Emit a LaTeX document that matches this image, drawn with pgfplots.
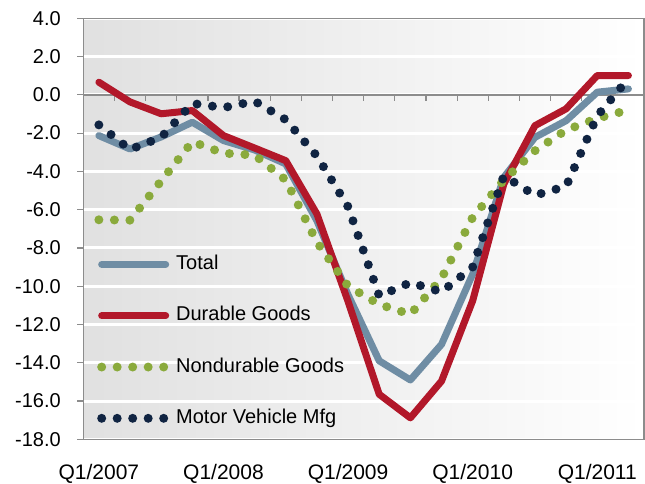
\documentclass[border=0pt]{standalone}
\usepackage{fontspec}
\setmainfont{Liberation Sans}
\usepackage{pgfplots}
\pgfplotsset{compat=1.18}
\definecolor{cTot}{RGB}{111,141,164}
\definecolor{cDur}{RGB}{178,24,42}
\definecolor{cNon}{RGB}{138,170,60}
\definecolor{cMot}{RGB}{16,36,66}
\definecolor{cFrame}{RGB}{140,140,140}
\pgfplotstableread{
x tot dur non mot
0  -2.13  0.66 -6.53 -1.57
1  -2.83 -0.37 -6.55 -2.86
2  -2.20 -0.99 -4.50 -2.22
3  -1.43 -0.82 -2.45 -0.45
4  -2.39 -2.13 -3.05 -0.67
5  -2.88 -2.78 -3.15 -0.33
6  -3.61 -3.44 -4.45 -1.30
7  -6.58 -6.23 -7.70 -3.20
8  -10.45 -10.80 -10.00 -5.85
9  -13.90 -15.65 -10.95 -10.51
10 -14.90 -16.88 -11.47 -9.81
11 -13.04 -14.96 -9.59 -10.30
12 -9.37 -10.76 -6.40 -9.00
13 -4.31 -4.66 -4.45 -4.23
14 -2.22 -1.61 -2.92 -5.25
15 -1.35 -0.73 -1.84 -4.78
16  0.14  1.01 -1.23 -1.10
17  0.31  1.01 -0.79  0.85
}\datatable
\begin{document}
\begin{tikzpicture}[x=1pt,y=1pt]
\path[use as bounding box] (0,0) rectangle (645,484);
\begin{axis}[
  at={(83.3pt,44.7pt)}, anchor=south west,
  scale only axis, width=560.7pt, height=421pt,
  xmin=-0.5, xmax=17.5, ymin=-18, ymax=4,
  axis background/.style={left color=black!12, right color=white},
  ytick={-18,-16,...,4},
  yticklabels={-18.0,-16.0,-14.0,-12.0,-10.0,-8.0,-6.0,-4.0,-2.0,0.0,2.0,4.0},
  ymajorgrids, grid style={white, line width=3pt},
  xtick={0,4,8,12,16},
  xticklabels={Q1/2007,Q1/2008,Q1/2009,Q1/2010,Q1/2011},
  axis line style={cFrame, line width=1.5pt},
  ytick style={cFrame, line width=1.2pt},
  xtick style={draw=none},
  tick align=outside, major tick length=6pt,
  tick label style={font=\fontsize{20}{22}\selectfont},
  yticklabel style={xshift=-13pt},
  xticklabel style={yshift=-15pt, font=\fontsize{21}{23}\selectfont},
  legend style={at={(axis description cs:0.0244,0.442)}, anchor=north west,
    draw=none, fill=none, inner sep=0pt, row sep=29.3pt,
    font=\fontsize{20}{22}\selectfont,
    nodes={text height=14pt, text depth=4pt, inner sep=2pt}},
  legend cell align=left,
  legend image code/.code={\draw[#1] (0pt,0pt) -- (64pt,0pt); \path (68pt,0pt);},
]
\draw[cFrame, line width=1.8pt] (axis cs:-0.5,0) -- (axis cs:17.5,0);
\pgfplotsinvokeforeach{0.5,1.5,...,16.5}{
  \draw[cFrame, line width=1.2pt] (axis cs:#1,0) -- ++(0pt,-6pt);
}
\addplot[cTot, line width=7pt, line join=round, line cap=round] table[x=x,y=tot]{\datatable};
\addlegendentry{Total}
\addplot[cDur, line width=7pt, line join=round, line cap=round] table[x=x,y=dur]{\datatable};
\addlegendentry{Durable Goods}
\addplot[cNon, line width=9pt, line cap=round, dash pattern=on 0pt off 15.5pt] table[x=x,y=non]{\datatable};
\addlegendentry{Nondurable Goods}
\addplot[cMot, line width=9pt, line cap=round, dash pattern=on 0pt off 15.5pt] table[x=x,y=mot]{\datatable};
\addlegendentry{Motor Vehicle Mfg}
\end{axis}
\end{tikzpicture}
\end{document}
